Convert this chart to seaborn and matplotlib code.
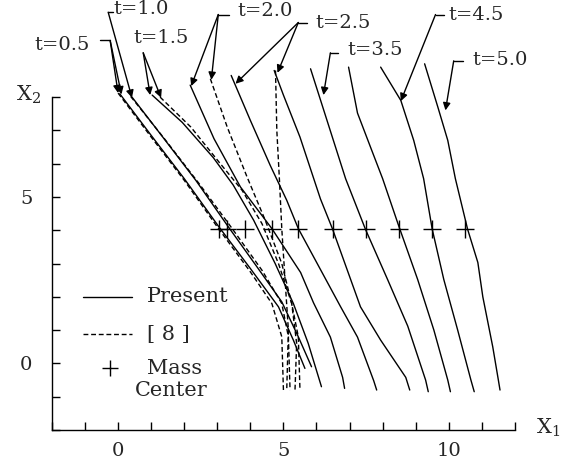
import matplotlib
matplotlib.use('Agg')
import pandas as pd
import seaborn as sns
import matplotlib.pyplot as plt
import matplotlib.ticker as ticker

# interface shapes (x1, x2) at each time
times = [0.5, 1.0, 1.5, 2.0, 2.5, 3.0, 3.5, 4.0, 4.5, 5.0]

present_t05 = [(0.05, 8.1), (1.0, 6.85), (2.0, 5.55), (3.05, 4.1), (4.0, 2.85), (4.85, 1.7), (5.3, 0.7), (5.65, -0.15)]
present_t10 = [(0.42, 8.0), (1.35, 6.8), (2.35, 5.5), (3.3, 4.15), (4.2, 2.9), (4.95, 1.85), (5.45, 0.8), (5.85, -0.1)]
present_t15 = [(1.03, 8.06), (1.94, 7.24), (2.88, 6.18), (3.48, 5.36), (4.1, 4.3), (4.75, 3.0), (5.3, 1.8), (5.75, 0.6), (6.15, -0.7)]
present_t20 = [(2.18, 8.36), (2.9, 6.75), (3.7, 5.3), (4.65, 4.05), (5.52, 2.73), (5.91, 1.82), (6.42, 0.79), (6.79, -0.42), (6.85, -0.75)]
present_t25 = [(3.42, 8.65), (4.0, 7.3), (4.6, 5.95), (5.1, 4.9), (5.45, 4.05), (6.12, 2.82), (6.73, 1.7), (7.24, 0.79), (7.73, -0.52), (7.82, -0.8)]
present_t30 = [(4.72, 8.8), (5.0, 8.06), (5.5, 6.8), (6.12, 4.94), (6.48, 4.05), (7.33, 1.7), (7.94, 0.7), (8.7, -0.42), (8.82, -0.8)]
present_t35 = [(5.82, 8.85), (6.88, 5.55), (7.48, 4.03), (8.15, 2.52), (8.76, 1.12), (9.3, -0.5), (9.38, -0.85)]
present_t40 = [(6.97, 8.9), (7.24, 7.52), (7.64, 6.48), (8.0, 5.55), (8.48, 4.15), (9.06, 2.52), (9.55, 1.0), (9.97, -0.5), (10.05, -0.85)]
present_t45 = [(7.94, 8.9), (8.55, 7.9), (8.94, 6.7), (9.24, 5.55), (9.5, 4.03), (9.85, 2.52), (10.27, 1.0), (10.67, -0.5), (10.77, -0.85)]
present_t50 = [(9.27, 9.0), (9.67, 7.7), (9.97, 6.7), (10.2, 5.55), (10.57, 4.03), (10.88, 3.03), (11.03, 2.0), (11.33, 0.5), (11.5, -0.5), (11.55, -0.8)]

# reference [8], only up to t = 2.5
ref_times = [0.5, 1.0, 1.5, 2.0, 2.5]
ref_t05 = [(0.0, 8.12), (1.0, 6.8), (2.0, 5.5), (3.0, 4.1), (4.0, 2.75), (4.65, 1.8), (4.95, 0.8), (5.0, -0.8)]
ref_t10 = [(0.38, 8.02), (1.4, 6.75), (2.45, 5.4), (3.45, 4.05), (4.35, 2.8), (4.95, 1.8), (5.15, 0.8), (5.2, -0.8)]
ref_t15 = [(1.27, 8.0), (2.2, 7.1), (3.05, 6.05), (3.75, 5.2), (4.35, 4.2), (4.85, 3.0), (5.25, 1.8), (5.45, 0.8), (5.5, -0.8)]
ref_t20 = [(2.79, 8.55), (3.3, 7.1), (3.9, 5.6), (4.45, 4.3), (4.95, 3.0), (5.25, 1.8), (5.4, 0.6), (5.35, -0.8)]
ref_t25 = [(4.76, 8.8), (4.8, 7.0), (4.88, 5.5), (4.95, 4.05), (5.05, 2.5), (5.15, 1.0), (5.1, -0.8)]

# mass centre positions
mass_x1 = [3.05, 3.3, 3.85, 4.65, 5.45, 6.5, 7.5, 8.5, 9.5, 10.5]
mass_x2 = [4.05] * len(mass_x1)

# time labels: text, text start, leader tick (x0, x1, y), arrow start, arrow tips
labels = [
    ('t=0.5', (-2.52, 9.55), (-0.55, -0.24, 9.7), (-0.24, 9.7), [(0.0, 8.12), (0.1, 8.08)]),
    ('t=1.0', (-0.13, 10.64), (-0.3, -0.15, 10.55), (-0.3, 10.55), [(0.42, 7.98)]),
    ('t=1.5', (0.45, 9.79), None, (0.76, 9.33), [(0.97, 8.06), (1.3, 7.98)]),
    ('t=2.0', (3.6, 10.6), (3.03, 3.36, 10.48), (3.03, 10.48), [(2.21, 8.33), (2.82, 8.52)]),
    ('t=2.5', (5.97, 10.24), (5.45, 5.72, 10.24), (5.45, 10.24), [(3.55, 8.4), (4.82, 8.73)]),
    ('t=3.5', (6.94, 9.42), (6.42, 6.66, 9.33), (6.42, 9.33), [(6.21, 8.06)]),
    ('t=4.5', (10.0, 10.48), (9.6, 9.86, 10.48), (9.6, 10.48), [(8.55, 7.88)]),
    ('t=5.0', (10.73, 9.12), (10.15, 10.42, 9.09), (10.15, 9.09), [(9.9, 7.6)]),
]

present = [present_t05, present_t10, present_t15, present_t20, present_t25,
           present_t30, present_t35, present_t40, present_t45, present_t50]
reference = [ref_t05, ref_t10, ref_t15, ref_t20, ref_t25]

rows = []
for src, tlist, curves in (('Present', times, present), ('[8]', ref_times, reference)):
    for t, pts in zip(tlist, curves):
        for a, b in pts:
            rows.append({'source': src, 'curve': f'{src} {t}', 'x1': a, 'x2': b})
df = pd.DataFrame(rows)

sns.set_theme(style='white')
plt.rcParams['font.family'] = ['DejaVu Serif']
plt.rcParams['mathtext.fontset'] = 'dejavuserif'

fig = plt.figure(figsize=(5.68, 4.63), dpi=100)
ax = fig.add_axes([0.0915, 0.0713, 0.815, 0.719])

sns.lineplot(data=df, x='x1', y='x2', units='curve', estimator=None, sort=False,
             style='source', dashes={'Present': '', '[8]': (3.5, 2)},
             color='black', lw=1.0, legend=False, ax=ax)
for ln in ax.lines:
    ln.set_clip_on(False)

sns.scatterplot(x=mass_x1, y=mass_x2, marker='+', s=150, color='black',
                linewidth=1.0, ax=ax, zorder=5, clip_on=False)

# time labels with leader arrows
for txt, tpos, tick, start, tips in labels:
    ax.text(tpos[0], tpos[1], txt, fontsize=14, ha='left', va='center')
    if tick is not None:
        ax.plot([tick[0], tick[1]], [tick[2], tick[2]], color='black', lw=1, clip_on=False)
    for tip in tips:
        ax.annotate('', xy=tip, xytext=start, annotation_clip=False,
                    arrowprops=dict(arrowstyle='-|>', color='black', lw=1,
                                    mutation_scale=11, shrinkA=0, shrinkB=0))

# hand-drawn legend
ax.plot([-1.06, 0.42], [2.0, 2.0], color='black', lw=1, clip_on=False)
ax.plot([-1.06, 0.42], [0.88, 0.88], color='black', lw=1, ls=(0, (3.5, 2)), clip_on=False)
ax.plot([-0.24], [-0.15], marker='+', ms=12, mew=1, color='black', clip_on=False)
ax.text(0.88, 2.0, 'Present', fontsize=15, va='center')
ax.text(0.88, 0.88, '[ 8 ]', fontsize=15, va='center')
ax.text(0.88, -0.15, 'Mass', fontsize=15, va='center')
ax.text(0.52, -0.82, 'Center', fontsize=15, va='center')

ax.set_xlim(-2, 12)
ax.set_ylim(-2, 8)
ax.set_xlabel('')
ax.set_ylabel('')
for side in ('top', 'right'):
    ax.spines[side].set_visible(False)
for side in ('left', 'bottom'):
    ax.spines[side].set_color('black')
    ax.spines[side].set_linewidth(1.0)

ax.xaxis.set_major_locator(ticker.FixedLocator([0, 5, 10]))
ax.yaxis.set_major_locator(ticker.FixedLocator([0, 5]))
ax.xaxis.set_minor_locator(ticker.MultipleLocator(1))
ax.yaxis.set_minor_locator(ticker.MultipleLocator(1))
ax.tick_params(which='both', direction='in', length=6, width=1, color='black',
               bottom=True, left=True)
ax.tick_params(axis='x', labelsize=14, pad=9)
ax.tick_params(axis='y', labelsize=14, pad=14)

fig.text(548 / 568, 1 - 428 / 463, r'$\mathrm{X}_1$', fontsize=15, ha='center', va='center')
fig.text(28 / 568, 1 - 95 / 463, r'$\mathrm{X}_2$', fontsize=15, ha='center', va='center')

fig.savefig('out.png', dpi=100)
